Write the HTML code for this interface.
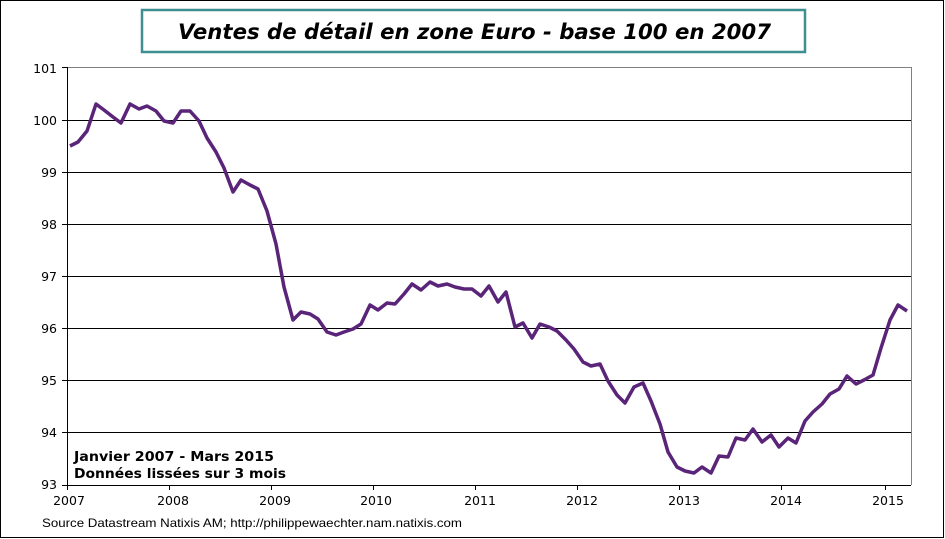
<!DOCTYPE html>
<html><head><meta charset="utf-8"><style>
html,body{margin:0;padding:0;background:#fff;}
svg{display:block;}
text{font-family:"DejaVu Sans","Liberation Sans",sans-serif;}
</style></head><body>
<svg width="945" height="539" viewBox="0 0 945 539" xmlns="http://www.w3.org/2000/svg">
<rect x="0.5" y="0.5" width="943" height="537" fill="#fff" stroke="#000" stroke-width="1"/>
<rect x="142" y="10" width="663" height="42" fill="#fff" stroke="#3f8e92" stroke-width="2.5"/>
<text x="178" y="39" font-size="21" font-weight="bold" font-style="italic" textLength="593" lengthAdjust="spacingAndGlyphs">Ventes de détail en zone Euro - base 100 en 2007</text>
<g stroke="#000" stroke-width="1">
<line x1="67" y1="120.5" x2="911" y2="120.5"/>
<line x1="67" y1="172.5" x2="911" y2="172.5"/>
<line x1="67" y1="224.5" x2="911" y2="224.5"/>
<line x1="67" y1="276.5" x2="911" y2="276.5"/>
<line x1="67" y1="328.5" x2="911" y2="328.5"/>
<line x1="67" y1="380.5" x2="911" y2="380.5"/>
<line x1="67" y1="432.5" x2="911" y2="432.5"/>
</g>
<g stroke="#808080" stroke-width="1"><line x1="67" y1="67.5" x2="911" y2="67.5"/><line x1="911.5" y1="67" x2="911.5" y2="485"/></g>
<g stroke="#000" stroke-width="1">
<line x1="67.5" y1="67" x2="67.5" y2="490"/>
<line x1="62" y1="485.5" x2="911" y2="485.5"/>
<line x1="62" y1="67.5" x2="67" y2="67.5"/><line x1="62" y1="120.5" x2="67" y2="120.5"/><line x1="62" y1="172.5" x2="67" y2="172.5"/><line x1="62" y1="224.5" x2="67" y2="224.5"/><line x1="62" y1="276.5" x2="67" y2="276.5"/><line x1="62" y1="328.5" x2="67" y2="328.5"/><line x1="62" y1="380.5" x2="67" y2="380.5"/><line x1="62" y1="432.5" x2="67" y2="432.5"/>
<line x1="169.5" y1="485" x2="169.5" y2="490"/><line x1="271.5" y1="485" x2="271.5" y2="490"/><line x1="373.5" y1="485" x2="373.5" y2="490"/><line x1="475.5" y1="485" x2="475.5" y2="490"/><line x1="577.5" y1="485" x2="577.5" y2="490"/><line x1="679.5" y1="485" x2="679.5" y2="490"/><line x1="781.5" y1="485" x2="781.5" y2="490"/><line x1="885.5" y1="485" x2="885.5" y2="490"/>
</g>
<g font-size="12.5" text-anchor="end">
<text x="57" y="73">101</text><text x="57" y="125">100</text><text x="57" y="177">99</text><text x="57" y="229">98</text><text x="57" y="281">97</text><text x="57" y="333">96</text><text x="57" y="385">95</text><text x="57" y="437">94</text><text x="57" y="489">93</text>
</g>
<g font-size="12.5" text-anchor="middle">
<text x="69" y="505">2007</text><text x="173" y="505">2008</text><text x="275" y="505">2009</text><text x="376" y="505">2010</text><text x="480" y="505">2011</text><text x="582" y="505">2012</text><text x="684" y="505">2013</text><text x="786" y="505">2014</text><text x="888" y="505">2015</text>
</g>
<polyline fill="none" stroke="#5a2479" stroke-width="3.5" stroke-linejoin="round" points="70,146 78,142 87,131 96,104 104,110 113,117 121,123 130,104 139,109 147,106 156,111 164,121 173,123 181,111 190,111 199,121 207,138 216,152 224,168 233,192 241,180 250,185 258,189 267,211 276,244 284,287 293,320 301,312 310,314 318,319 327,332 336,335 344,332 353,329 361,324 370,305 378,310 387,303 395,304 404,294 412,284 421,290 430,282 438,286 447,284 455,287 464,289 472,289 481,296 489,286 498,302 506,292 515,327 523,323 532,338 540,324 549,327 557,331 566,340 574,349 583,362 591,366 600,364 608,381 617,395 625,403 634,387 643,383 651,401 660,424 668,452 677,467 685,471 694,473 702,467 711,473 719,456 728,457 736,438 745,440 753,429 762,442 771,435 779,447 788,438 796,443 805,421 813,412 822,404 830,394 839,389 847,376 856,384 864,380 873,375 881,348 890,320 898,305 907,311"/>
<g font-size="13.5" font-weight="bold">
<text x="74" y="461" textLength="200" lengthAdjust="spacingAndGlyphs">Janvier 2007 - Mars 2015</text>
<text x="74" y="478" textLength="212" lengthAdjust="spacingAndGlyphs">Données lissées sur 3 mois</text>
</g>
<text x="42" y="527" font-size="12" textLength="420" lengthAdjust="spacingAndGlyphs" style="font-family:'Liberation Sans',sans-serif">Source Datastream  Natixis AM; http://philippewaechter.nam.natixis.com</text>
</svg>
</body></html>
